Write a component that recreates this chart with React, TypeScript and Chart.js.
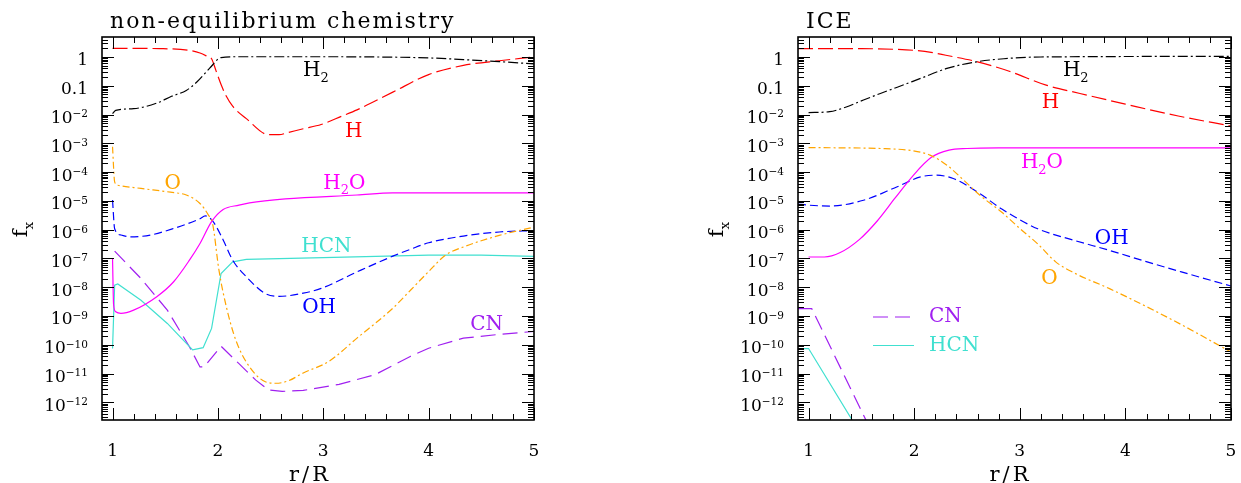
import React, { useEffect, useRef } from 'react';
import { Chart, registerables } from 'chart.js';

Chart.register(...registerables);

// ---------------- tick labels ----------------
const xTickValues = [1, 2, 3, 4, 5];
const xMinorTickValues = [1.2, 1.4, 1.6, 1.8, 2.2, 2.4, 2.6, 2.8, 3.2, 3.4, 3.6, 3.8, 4.2, 4.4, 4.6, 4.8];
const yTickValues = [1, 0.1, 1e-2, 1e-3, 1e-4, 1e-5, 1e-6, 1e-7, 1e-8, 1e-9, 1e-10, 1e-11, 1e-12];
const yTickBase = ['1', '0.1', '10', '10', '10', '10', '10', '10', '10', '10', '10', '10', '10'];
const yTickExp = ['', '', '−2', '−3', '−4', '−5', '−6', '−7', '−8', '−9', '−10', '−11', '−12'];

// ---------------- non-equilibrium chemistry panel ----------------
const neqHX = [1.0, 1.45, 1.73, 1.83, 1.91, 1.94, 1.98, 2.03, 2.08, 2.14, 2.27, 2.48, 2.58, 2.67, 2.81, 2.98, 3.18, 3.32, 3.66, 4.0, 4.33, 4.67, 5.0];
const neqHY = [2.0, 1.95, 1.7, 1.38, 1.0, 0.87, 0.35, 0.11, 0.043, 0.0195, 7.2e-3, 2.0e-3, 2.0e-3, 2.4e-3, 3.2e-3, 4.5e-3, 8.9e-3, 1.45e-2, 6.0e-2, 0.245, 0.51, 0.74, 1.0];

const neqH2X = [1.0, 1.03, 1.2, 1.42, 1.56, 1.7, 1.8, 1.92, 2.03, 2.2, 3.0, 3.5, 4.0, 4.33, 4.67, 5.0];
const neqH2Y = [1.07e-2, 1.4e-2, 1.6e-2, 2.5e-2, 4.3e-2, 6.9e-2, 0.135, 0.4, 0.95, 1.02, 1.02, 1.0, 0.93, 0.81, 0.69, 0.575];

const neqOX = [1.0, 1.02, 1.05, 1.27, 1.55, 1.7, 1.83, 1.91, 1.95, 2.01, 2.08, 2.17, 2.3, 2.45, 2.55, 2.67, 2.81, 3.05, 3.32, 3.66, 3.83, 4.0, 4.16, 4.33, 4.67, 5.0];
const neqOY = [7.6e-4, 4.6e-5, 3.5e-5, 2.7e-5, 2.0e-5, 1.6e-5, 8.1e-6, 3.2e-6, 1.6e-6, 3.9e-8, 2.1e-9, 1.45e-10, 1.7e-11, 5.2e-12, 4.6e-12, 5.6e-12, 1.05e-11, 2.6e-11, 1.7e-10, 1.86e-9, 8.0e-9, 3.5e-8, 1.3e-7, 2.5e-7, 6.3e-7, 1.23e-6];

const neqOHX = [1.0, 1.02, 1.08, 1.17, 1.36, 1.58, 1.83, 1.88, 1.95, 2.05, 2.14, 2.27, 2.45, 2.58, 2.81, 2.98, 3.32, 3.66, 3.83, 4.0, 4.33, 4.67, 5.0];
const neqOHY = [1.07e-5, 1.07e-6, 6.5e-7, 5.6e-7, 6.5e-7, 1.1e-6, 2.4e-6, 3.0e-6, 2.0e-6, 4.4e-7, 8.7e-8, 2.3e-8, 6.0e-9, 4.8e-9, 6.2e-9, 9.1e-9, 3.4e-8, 1.2e-7, 2.1e-7, 3.5e-7, 6.0e-7, 8.3e-7, 9.3e-7];

const neqH2OX = [1.0, 1.01, 1.03, 1.08, 1.2, 1.42, 1.58, 1.73, 1.83, 1.94, 2.05, 2.2, 2.3, 2.64, 3.32, 3.66, 5.0];
const neqH2OY = [1.0e-7, 2.5e-9, 1.4e-9, 1.23e-9, 1.6e-9, 4.7e-9, 1.55e-8, 8.7e-8, 3.3e-7, 1.9e-6, 5.0e-6, 7.1e-6, 8.5e-6, 1.17e-5, 1.6e-5, 1.9e-5, 1.9e-5];

const neqHCNX = [1.0, 1.02, 1.05, 1.27, 1.52, 1.76, 1.86, 1.94, 2.03, 2.14, 2.27, 3.0, 4.0, 4.5, 5.0];
const neqHCNY = [7.4e-11, 1.17e-8, 1.3e-8, 3.5e-9, 5.5e-10, 6.6e-11, 7.9e-11, 3.7e-10, 3.0e-8, 7.6e-8, 9.3e-8, 1.07e-7, 1.3e-7, 1.3e-7, 1.17e-7];

const neqCNX = [1.02, 1.27, 1.52, 1.73, 1.83, 1.87, 2.03, 2.2, 2.36, 2.48, 2.61, 2.81, 3.15, 3.49, 3.83, 4.0, 4.33, 4.67, 5.0];
const neqCNY = [1.8e-7, 2.0e-8, 1.6e-9, 8.5e-11, 1.7e-11, 1.7e-11, 8.9e-11, 2.2e-11, 5.9e-12, 2.7e-12, 2.4e-12, 2.6e-12, 4.2e-12, 9.1e-12, 4.0e-11, 7.6e-11, 1.7e-10, 2.3e-10, 2.9e-10];

// ---------------- ICE panel ----------------
const iceHX = [0.9, 1.5, 1.8, 2.0, 2.16, 2.3, 2.6, 2.9, 3.25, 3.57, 4.0, 4.5, 5.0];
const iceHY = [1.95, 1.95, 1.86, 1.7, 1.45, 1.15, 0.68, 0.32, 0.105, 0.054, 0.023, 8.9e-3, 4.0e-3];

const iceH2X = [1.0, 1.2, 1.35, 1.52, 1.68, 1.84, 2.06, 2.31, 2.59, 2.85, 3.2, 5.0];
const iceH2Y = [1.17e-2, 1.26e-2, 1.8e-2, 3.2e-2, 5.4e-2, 8.9e-2, 0.18, 0.4, 0.68, 0.87, 1.0, 1.05];

const iceOX = [1.0, 1.68, 1.99, 2.15, 2.31, 2.47, 2.62, 2.83, 3.0, 3.17, 3.34, 3.51, 3.85, 4.19, 4.53, 5.0];
const iceOY = [7.1e-4, 6.6e-4, 5.5e-4, 3.9e-4, 1.74e-4, 5.2e-5, 1.6e-5, 4.0e-6, 1.1e-6, 3.2e-7, 7.6e-8, 3.2e-8, 8.9e-9, 2.2e-9, 5.0e-10, 5.6e-11];

const iceOHX = [0.9, 1.0, 1.2, 1.52, 1.84, 2.06, 2.21, 2.37, 2.62, 2.83, 3.17, 3.51, 3.85, 4.19, 4.53, 5.0];
const iceOHY = [7.8e-6, 7.1e-6, 6.6e-6, 1.05e-5, 3.1e-5, 6.8e-5, 7.8e-5, 6.0e-5, 1.8e-5, 5.2e-6, 1.07e-6, 4.3e-7, 1.9e-7, 7.9e-8, 3.4e-8, 1.1e-8];

const iceH2OX = [1.0, 1.15, 1.3, 1.48, 1.65, 1.82, 1.99, 2.16, 2.33, 2.5, 2.8, 5.0];
const iceH2OY = [1.12e-7, 1.12e-7, 1.6e-7, 4.5e-7, 2.0e-6, 1.26e-5, 7.6e-5, 3.2e-4, 5.8e-4, 6.6e-4, 6.9e-4, 6.9e-4];

const iceCNX = [0.9, 1.03, 1.6];
const iceCNY = [1.8e-9, 1.8e-9, 9.0e-14];

const iceHCNX = [0.9, 1.0, 1.5];
const iceHCNY = [7.4e-11, 7.4e-11, 7.2e-14];

// ---------------- styles ----------------
const SERIF = '"DejaVu Serif", "Liberation Serif", serif';
const X_MIN = 0.9;
const X_MAX = 5;
const Y_MIN = 2.43e-13;
const Y_MAX = 4.95;

const COLORS: Record<string, string> = {
  H: 'rgb(255,0,0)',
  H2: 'rgb(0,0,0)',
  O: 'rgb(255,165,0)',
  OH: 'rgb(0,0,255)',
  H2O: 'rgb(255,0,255)',
  HCN: 'rgb(64,224,208)',
  CN: 'rgb(160,32,240)',
};
const DASH: Record<string, number[]> = {
  H: [15, 5],
  H2: [10, 3, 2, 3],
  O: [7, 3, 2, 3],
  OH: [8, 4],
  H2O: [],
  HCN: [],
  CN: [15, 7],
};

type Part = { t: string; s?: number; d?: number };
const SUB = (t: string): Part => ({ t, s: 0.65, d: 0.28 });

interface SeriesDef { key: string; x: number[]; y: number[]; smooth: boolean }
interface LabelDef { key: string; parts: Part[]; x: number; y: number }
interface PanelDef {
  title: string;
  width: number;
  axisWidth: number;
  padRight: number;
  xTitleShift: number;
  series: SeriesDef[];
  labels: LabelDef[];
  legend: { key: string; text: string }[];
}

const PANELS: PanelDef[] = [
  {
    title: 'non-equilibrium chemistry',
    width: 620,
    axisWidth: 102,
    padRight: 86,
    xTitleShift: -8,
    series: [
      { key: 'H2', x: neqH2X, y: neqH2Y, smooth: true },
      { key: 'H', x: neqHX, y: neqHY, smooth: true },
      { key: 'O', x: neqOX, y: neqOY, smooth: true },
      { key: 'H2O', x: neqH2OX, y: neqH2OY, smooth: true },
      { key: 'OH', x: neqOHX, y: neqOHY, smooth: true },
      { key: 'HCN', x: neqHCNX, y: neqHCNY, smooth: false },
      { key: 'CN', x: neqCNX, y: neqCNY, smooth: false },
    ],
    labels: [
      { key: 'H2', parts: [{ t: 'H' }, SUB('2')], x: 2.93, y: 0.38 },
      { key: 'H', parts: [{ t: 'H' }], x: 3.29, y: 3.0e-3 },
      { key: 'O', parts: [{ t: 'O' }], x: 1.57, y: 4.6e-5 },
      { key: 'H2O', parts: [{ t: 'H' }, SUB('2'), { t: 'O' }], x: 3.2, y: 4.8e-5 },
      { key: 'HCN', parts: [{ t: 'HCN' }], x: 3.03, y: 2.9e-7 },
      { key: 'OH', parts: [{ t: 'OH' }], x: 2.96, y: 2.3e-9 },
      { key: 'CN', parts: [{ t: 'CN' }], x: 4.55, y: 5.8e-10 },
    ],
    legend: [],
  },
  {
    title: 'ICE',
    width: 621,
    axisWidth: 178,
    padRight: 10,
    xTitleShift: -4,
    series: [
      { key: 'H2', x: iceH2X, y: iceH2Y, smooth: true },
      { key: 'H', x: iceHX, y: iceHY, smooth: true },
      { key: 'O', x: iceOX, y: iceOY, smooth: true },
      { key: 'H2O', x: iceH2OX, y: iceH2OY, smooth: true },
      { key: 'OH', x: iceOHX, y: iceOHY, smooth: true },
      { key: 'HCN', x: iceHCNX, y: iceHCNY, smooth: false },
      { key: 'CN', x: iceCNX, y: iceCNY, smooth: false },
    ],
    labels: [
      { key: 'H2', parts: [{ t: 'H' }, SUB('2')], x: 3.53, y: 0.38 },
      { key: 'H', parts: [{ t: 'H' }], x: 3.29, y: 0.03 },
      { key: 'H2O', parts: [{ t: 'H' }, SUB('2'), { t: 'O' }], x: 3.21, y: 2.4e-4 },
      { key: 'OH', parts: [{ t: 'OH' }], x: 3.87, y: 5.6e-7 },
      { key: 'O', parts: [{ t: 'O' }], x: 3.28, y: 2.3e-8 },
    ],
    legend: [
      { key: 'CN', text: 'CN' },
      { key: 'HCN', text: 'HCN' },
    ],
  },
];

function drawRich(
  ctx: CanvasRenderingContext2D,
  parts: Part[],
  x: number,
  y: number,
  size: number,
  color: string,
  align: 'left' | 'center' | 'right',
  spacing = 0,
) {
  ctx.save();
  ctx.fillStyle = color;
  ctx.textBaseline = 'alphabetic';
  ctx.textAlign = 'left';
  (ctx as any).letterSpacing = spacing + 'px';
  const widths = parts.map((p) => {
    ctx.font = `${size * (p.s ?? 1)}px ${SERIF}`;
    return ctx.measureText(p.t).width;
  });
  const total = widths.reduce((a, b) => a + b, 0);
  let cx = align === 'left' ? x : align === 'center' ? x - total / 2 : x - total;
  parts.forEach((p, i) => {
    ctx.font = `${size * (p.s ?? 1)}px ${SERIF}`;
    ctx.fillText(p.t, cx, y + (p.d ?? 0) * size);
    cx += widths[i];
  });
  ctx.restore();
}

function makePanelPlugin(panel: PanelDef) {
  return {
    id: 'panelDecor',
    afterDatasetsDraw(chart: any) {
      const ctx: CanvasRenderingContext2D = chart.ctx;
      const area = chart.chartArea;
      const xs = chart.scales.x;
      const ys = chart.scales.y;
      const L = area.left, R = area.right, T = area.top, B = area.bottom;

      ctx.save();
      // ticks
      ctx.strokeStyle = '#000';
      ctx.lineWidth = 1;
      const tickX = (v: number, len: number) => {
        const p = Math.round(xs.getPixelForValue(v)) + 0.5;
        ctx.beginPath();
        ctx.moveTo(p, B); ctx.lineTo(p, B - len);
        ctx.moveTo(p, T); ctx.lineTo(p, T + len);
        ctx.stroke();
      };
      const tickY = (v: number, len: number) => {
        const p = Math.round(ys.getPixelForValue(v)) + 0.5;
        ctx.beginPath();
        ctx.moveTo(L, p); ctx.lineTo(L + len, p);
        ctx.moveTo(R, p); ctx.lineTo(R - len, p);
        ctx.stroke();
      };
      xTickValues.forEach((v) => tickX(v, 12));
      xMinorTickValues.forEach((v) => tickX(v, 6));
      for (let e = -13; e <= 0; e++) {
        for (let k = 1; k <= 9; k++) {
          const v = k * Math.pow(10, e);
          if (v < ys.min || v > ys.max) continue;
          tickY(v, k === 1 ? 12 : 6);
        }
      }
      // frame
      ctx.lineWidth = 1.6;
      ctx.strokeRect(L, T, R - L, B - T);

      // y tick labels
      yTickValues.forEach((v, i) => {
        const p = ys.getPixelForValue(v);
        const parts: Part[] = [{ t: yTickBase[i] }];
        if (yTickExp[i]) parts.push({ t: yTickExp[i], s: 0.62, d: -0.33 });
        drawRich(ctx, parts, L - 14, p + 8.5, 17, '#000', 'right');
      });

      // curve labels
      panel.labels.forEach((lb) => {
        const px = xs.getPixelForValue(lb.x);
        const py = ys.getPixelForValue(lb.y);
        drawRich(ctx, lb.parts, px, py + 7.3, 20, COLORS[lb.key], 'center');
      });

      // in-plot legend
      panel.legend.forEach((lg, i) => {
        const yy = T + 280 + i * 28.5;
        ctx.save();
        ctx.strokeStyle = COLORS[lg.key];
        ctx.lineWidth = 1.2;
        ctx.setLineDash(DASH[lg.key]);
        ctx.beginPath();
        ctx.moveTo(L + 75, yy);
        ctx.lineTo(L + 116, yy);
        ctx.stroke();
        ctx.restore();
        drawRich(ctx, [{ t: lg.text }], L + 131, yy + 5, 20, COLORS[lg.key], 'left');
      });

      // panel title
      drawRich(ctx, [{ t: panel.title }], L + 8, 27.5, 22, '#000', 'left', 2);

      // x axis title
      drawRich(ctx, [{ t: 'r/R' }], (L + R) / 2 + panel.xTitleShift, 481, 21, '#000', 'center', 3);

      // y axis title (rotated)
      ctx.save();
      ctx.translate(L - 75, (T + B) / 2 + 1);
      ctx.rotate(-Math.PI / 2);
      drawRich(ctx, [{ t: 'f' }, { t: 'x', s: 0.65, d: 0.3 }], 0, 0, 21, '#000', 'center');
      ctx.restore();
      ctx.restore();
    },
  };
}

function buildChart(canvas: HTMLCanvasElement, panel: PanelDef) {
  const datasets = panel.series.map((s) => ({
    label: s.key,
    data: s.x.map((x, i) => ({ x, y: s.y[i] })),
    borderColor: COLORS[s.key],
    backgroundColor: COLORS[s.key],
    borderWidth: 1.2,
    borderDash: DASH[s.key],
    pointRadius: 0,
    pointHoverRadius: 0,
    fill: false,
    tension: 0,
    cubicInterpolationMode: s.smooth ? 'monotone' : 'default',
  }));
  return new Chart(canvas, {
    type: 'line',
    data: { datasets } as any,
    options: {
      animation: false,
      responsive: false,
      devicePixelRatio: 1,
      events: [],
      layout: { padding: { left: 0, right: panel.padRight, top: 37, bottom: 0 } },
      plugins: {
        legend: { display: false },
        tooltip: { enabled: false },
        title: { display: false },
      },
      scales: {
        x: {
          type: 'linear',
          min: X_MIN,
          max: X_MAX,
          grid: { display: false },
          border: { display: false },
          afterBuildTicks: (s: any) => {
            s.ticks = xTickValues.map((v) => ({ value: v }));
          },
          afterFit: (s: any) => {
            s.height = 63;
            s.paddingLeft = 0;
            s.paddingRight = 0;
          },
          ticks: {
            font: { family: SERIF, size: 17 },
            color: '#000',
            padding: 13,
            autoSkip: false,
            maxRotation: 0,
            callback: (v: any) => String(v),
          },
        },
        y: {
          type: 'logarithmic',
          min: Y_MIN,
          max: Y_MAX,
          grid: { display: false },
          border: { display: false },
          ticks: { display: false },
          afterFit: (s: any) => {
            s.width = panel.axisWidth;
            s.paddingTop = 0;
            s.paddingBottom = 0;
          },
        },
      },
    } as any,
    plugins: [makePanelPlugin(panel)],
  });
}

export default function App() {
  const leftRef = useRef<HTMLCanvasElement>(null);
  const rightRef = useRef<HTMLCanvasElement>(null);
  useEffect(() => {
    const a = buildChart(leftRef.current!, PANELS[0]);
    const b = buildChart(rightRef.current!, PANELS[1]);
    return () => {
      a.destroy();
      b.destroy();
    };
  }, []);
  return (
    <div style={{ position: 'fixed', left: 0, top: 0, width: 1241, height: 483, background: '#fff', overflow: 'hidden' }}>
      <canvas ref={leftRef} width={620} height={483} style={{ position: 'absolute', left: 0, top: 0 }} />
      <canvas ref={rightRef} width={621} height={483} style={{ position: 'absolute', left: 620, top: 0 }} />
    </div>
  );
}
